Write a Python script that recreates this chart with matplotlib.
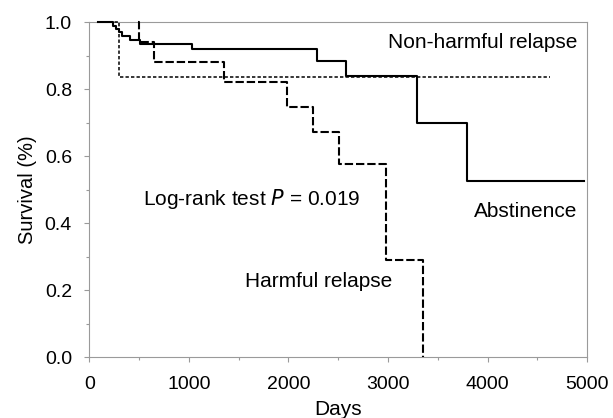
import matplotlib
matplotlib.use("Agg")
import matplotlib.pyplot as plt
from matplotlib.ticker import MultipleLocator, FormatStrFormatter

plt.rcParams['font.family'] = ['Liberation Sans', 'DejaVu Sans']

# Kaplan-Meier step curves (days, survival fraction)
abst_days = [90, 240, 270, 300, 330, 410, 510, 1030, 2290, 2580, 3295, 3795, 4970]
abst_surv = [1.0, 0.99, 0.98, 0.97, 0.96, 0.948, 0.935, 0.92, 0.884, 0.838, 0.70, 0.527, 0.527]

nonharm_days = [90, 300, 4630]
nonharm_surv = [1.0, 0.836, 0.836]

harm_days = [490, 500, 653, 1354, 1984, 2251, 2513, 2982, 3354]
harm_surv = [1.0, 0.94, 0.882, 0.820, 0.746, 0.671, 0.576, 0.29, 0.0]

frame_col = '#9a9a9a'

fig = plt.figure(figsize=(6.13, 4.18), dpi=100)
ax = fig.add_axes([0.1457, 0.145, 0.812, 0.802])

ax.step(abst_days, abst_surv, where='post', color='black', lw=1.5,
        clip_on=False, zorder=3)
ax.step(nonharm_days, nonharm_surv, where='post', color='black', lw=1.1,
        linestyle=(0, (2.2, 1.4)), clip_on=False, zorder=3)
ax.step(harm_days, harm_surv, where='post', color='black', lw=1.5,
        linestyle=(0, (4.0, 1.4)), clip_on=False, zorder=3)

ax.set_xlim(0, 5000)
ax.set_ylim(0, 1.0)
ax.xaxis.set_major_locator(MultipleLocator(1000))
ax.xaxis.set_minor_locator(MultipleLocator(500))
ax.yaxis.set_major_locator(MultipleLocator(0.2))
ax.yaxis.set_minor_locator(MultipleLocator(0.1))
ax.yaxis.set_major_formatter(FormatStrFormatter('%.1f'))

for s in ax.spines.values():
    s.set_color(frame_col)
    s.set_linewidth(0.8)
ax.tick_params(which='both', direction='out', color=frame_col, width=0.8)
ax.tick_params(which='major', length=3.5, labelsize=14)
ax.tick_params(which='minor', length=2.5)
ax.tick_params(axis='x', which='major', pad=10)
ax.tick_params(axis='y', which='major', pad=9)

ax.set_xlabel('Days', fontsize=15, labelpad=5)
ax.set_ylabel('Survival (%)', fontsize=14.5)
ax.yaxis.set_label_coords(-0.105, 0.5)

ax.text(4900, 0.94, 'Non-harmful relapse', fontsize=15, ha='right', va='center')
ax.text(543, 0.455, 'Log-rank test $\\it{P}$ = 0.019', fontsize=15,
        ha='left', va='baseline')
ax.text(4900, 0.434, 'Abstinence', fontsize=15, ha='right', va='center')
ax.text(1560, 0.225, 'Harmful relapse', fontsize=15, ha='left', va='center')

fig.savefig('out.png', dpi=100)
